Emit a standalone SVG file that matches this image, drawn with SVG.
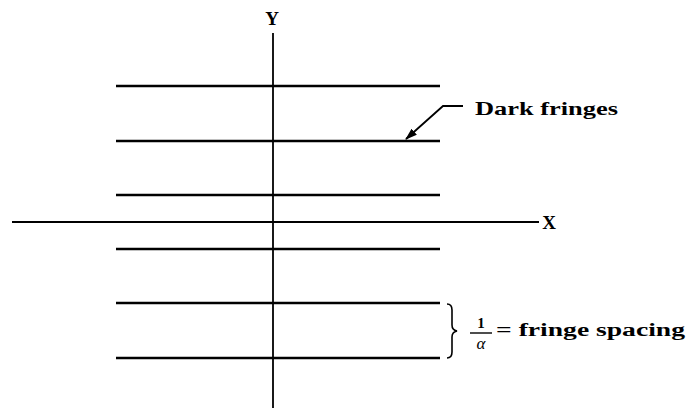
<svg xmlns="http://www.w3.org/2000/svg" width="690" height="409" viewBox="0 0 690 409">
<style>
.fr{stroke:#000;stroke-width:2.6;fill:none}
.ax{stroke:#000;stroke-width:1.8;fill:none}
.t{font-family:"Liberation Serif","DejaVu Serif",serif;font-weight:bold;fill:#000}
</style>
<defs>
<marker id="ah" markerWidth="12" markerHeight="8" refX="11" refY="4" orient="auto" markerUnits="userSpaceOnUse">
<path d="M0,0 L12,4 L0,8 Z" fill="#000"/>
</marker>
</defs>
<rect width="690" height="409" fill="#fff"/>
<g id="axes">
<line class="ax" x1="12" y1="222" x2="539" y2="222"/>
<line class="ax" x1="273" y1="33" x2="273" y2="408"/>
<text class="t" x="272" y="25" font-size="19" text-anchor="middle">Y</text>
<text class="t" x="549" y="229" font-size="19" text-anchor="middle">X</text>
</g>
<g id="fringes">
<line class="fr" x1="116" y1="86" x2="440" y2="86"/>
<line class="fr" x1="116" y1="141" x2="440" y2="141"/>
<line class="fr" x1="116" y1="195" x2="440" y2="195"/>
<line class="fr" x1="116" y1="249" x2="440" y2="249"/>
<line class="fr" x1="116" y1="303" x2="440" y2="303"/>
<line class="fr" x1="116" y1="358" x2="440" y2="358"/>
</g>
<g id="connectors">
<polyline points="463,106 443,106 406,139" stroke="#000" stroke-width="1.8" fill="none" marker-end="url(#ah)"/>
</g>
<g id="label-dark">
<text class="t" x="475" y="115" font-size="18" textLength="143" lengthAdjust="spacingAndGlyphs">Dark fringes</text>
</g>
<g id="label-spacing">
<path d="M447,304 Q452,304 452,310 L452,325 Q452,330 457,331 Q452,332 452,337 L452,352 Q452,358 447,358" stroke="#000" stroke-width="1.6" fill="none"/>
<text class="t" x="481" y="328" font-size="15" text-anchor="middle">1</text>
<line x1="470" y1="333" x2="492" y2="333" stroke="#000" stroke-width="1.4"/>
<text x="481" y="349" font-size="17" text-anchor="middle" font-family="Liberation Serif, serif" font-style="italic" fill="#000">α</text>
<text class="t" x="496" y="336" font-size="18" textLength="189" lengthAdjust="spacingAndGlyphs">= fringe spacing</text>
</g>
</svg>
